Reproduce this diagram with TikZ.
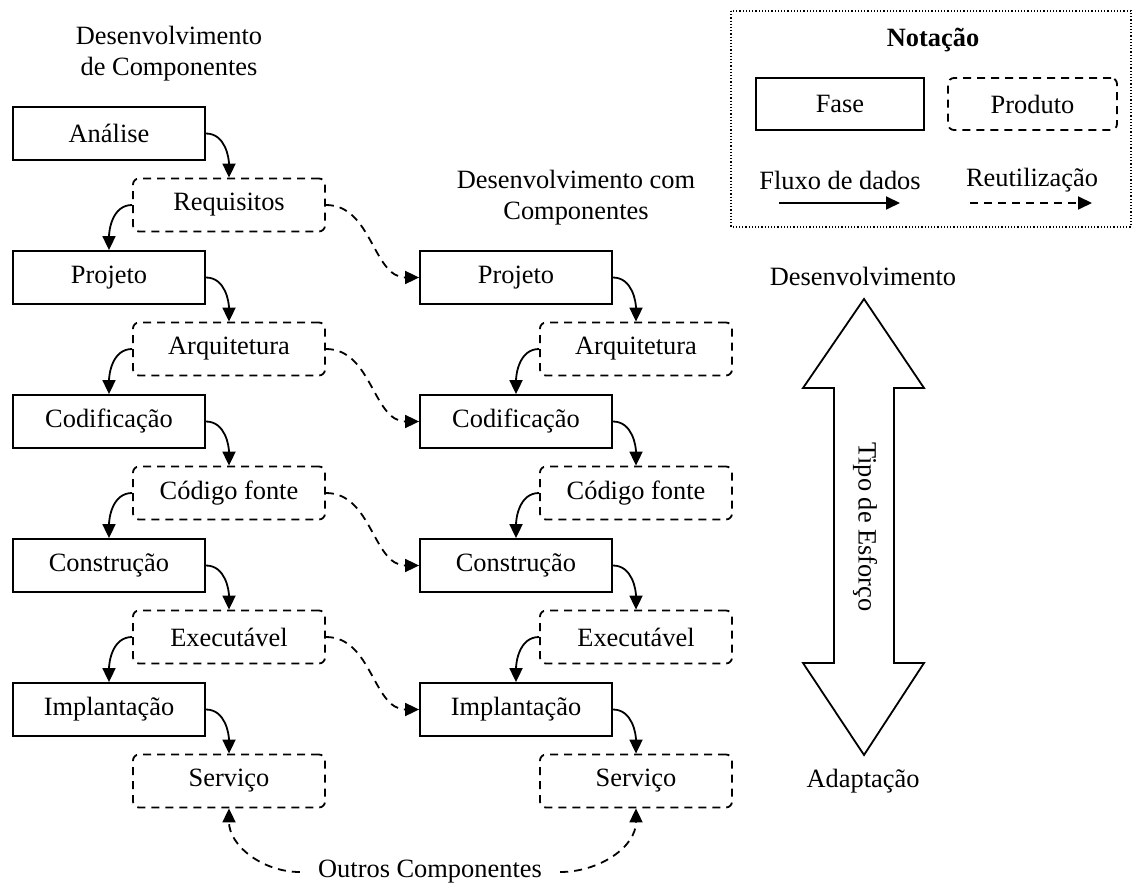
\documentclass[tikz,border=0pt]{standalone}
\usepackage{fontspec}
\setmainfont{Liberation Serif}
\usepackage{tikz}
\usetikzlibrary{arrows.meta}
\tikzset{
  fase/.style={draw,line width=0.9pt,minimum width=96pt,minimum height=26.5pt,inner sep=0pt},
  prod/.style={draw,line width=0.9pt,dash pattern=on 4pt off 3pt,rounded corners=3pt,minimum width=96pt,minimum height=26.5pt,inner sep=0pt},
  fluxo/.style={-{Triangle[length=7pt,width=6.5pt]},line width=0.9pt},
  reuso/.style={-{Triangle[length=7pt,width=6.5pt]},line width=0.9pt,dash pattern=on 4pt off 3pt},
  rotulo/.style={align=center,inner sep=0pt}
}

\begin{document}
\begin{tikzpicture}[x=0.5pt,y=-0.5pt,every node/.style={font=\fontsize{13.2}{15.5}\selectfont}]
\useasboundingbox (0,0) rectangle (1134,892);
\node[rotulo] (titdc) at (169,54) {Desenvolvimento\\de Componentes};
\node[rotulo] (titcc) at (576,198) {Desenvolvimento com\\Componentes};
\node[fase] (analise) at (109,133.5) {Análise};
\node[prod] (req) at (229,205) {Requisitos};
\node[fase] (proj1) at (109,277.5) {Projeto};
\node[prod] (arq1) at (229,349) {Arquitetura};
\node[fase] (cod1) at (109,421.5) {Codificação};
\node[prod] (fonte1) at (229,493) {Código fonte};
\node[fase] (cons1) at (109,565.5) {Construção};
\node[prod] (exe1) at (229,637) {Executável};
\node[fase] (impl1) at (109,709.5) {Implantação};
\node[prod] (serv1) at (229,781) {Serviço};
\node[fase] (proj2) at (516,277.5) {Projeto};
\node[prod] (arq2) at (636,349) {Arquitetura};
\node[fase] (cod2) at (516,421.5) {Codificação};
\node[prod] (fonte2) at (636,493) {Código fonte};
\node[fase] (cons2) at (516,565.5) {Construção};
\node[prod] (exe2) at (636,637) {Executável};
\node[fase] (impl2) at (516,709.5) {Implantação};
\node[prod] (serv2) at (636,781) {Serviço};
\foreach \a/\b in {analise/req,proj1/arq1,cod1/fonte1,cons1/exe1,impl1/serv1,proj2/arq2,cod2/fonte2,cons2/exe2,impl2/serv2}
  \draw[fluxo] (\a.east) to[out=0,in=90] (\b.north);
\foreach \a/\b in {req/proj1,arq1/cod1,fonte1/cons1,exe1/impl1,arq2/cod2,fonte2/cons2,exe2/impl2}
  \draw[fluxo] (\a.west) to[out=180,in=90] (\b.north);
\foreach \a/\b in {req/proj2,arq1/cod2,fonte1/cons2,exe1/impl2}
  \draw[reuso] (\a.east) to[out=0,in=180] (\b.west);
\node[inner xsep=9pt] (outros) at (430,872) {Outros Componentes};
\draw[reuso] (outros.west) to[out=180,in=-90] (serv1.south);
\draw[reuso] (outros.east) to[out=0,in=-90] (serv2.south);
\draw[line width=0.6pt,dash pattern=on 0.6pt off 1pt] (731,11) rectangle (1131,227);
\node[font=\fontsize{13.2}{15.5}\selectfont\bfseries] (notacao) at (933,40) {Notação};
\node[fase,minimum width=84pt,minimum height=26pt] (nfase) at (840,104) {Fase};
\node[prod,minimum width=84.5pt,minimum height=26pt] (nprod) at (1032.5,104) {Produto};
\node (nfluxo) at (840,180) {Fluxo de dados};
\node (nreuso) at (1032,180) {Reutilização};
\coordinate (f0) at (779,203);
\coordinate (f1) at (900,203);
\coordinate (r0) at (970,203);
\coordinate (r1) at (1092,203);
\draw[fluxo] (f0) -- (f1);
\draw[reuso] (r0) -- (r1);
\draw[line width=0.9pt] (864,299) -- (924,388) -- (894,388) -- (894,663) -- (924,663) -- (864,755) -- (803,663) -- (834,663) -- (834,388) -- (803,388) -- cycle;
\node[rotate=-90] (esforco) at (865,527) {Tipo de Esforço};
\node (desenv) at (863,276) {Desenvolvimento};
\node (adapt) at (863,781) {Adaptação};
\end{tikzpicture}
\end{document}
